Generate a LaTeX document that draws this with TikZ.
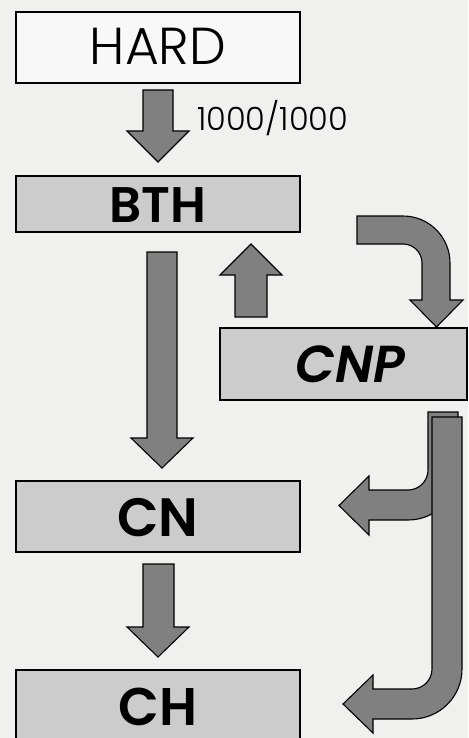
\documentclass[tikz,border=0pt]{standalone}
\usepackage{fontspec}
\setmainfont{Poppins}[BoldFont={Poppins SemiBold}, BoldItalicFont={Poppins SemiBold Italic}]
\newfontfamily\lightfont{Poppins Light}
\definecolor{bg}{RGB}{240,241,239}
\definecolor{boxgray}{RGB}{204,204,204}
\definecolor{arrgray}{RGB}{128,128,128}
\definecolor{hardfill}{RGB}{248,248,248}
\tikzset{
  box/.style={draw=black, line width=1.4pt, fill=boxgray, inner sep=0pt, text=black},
  blockarrow/.style={draw=black, line width=1.1pt, fill=arrgray, line join=miter},
  boxtext/.style={inner sep=0pt, anchor=base, text depth=0pt},
}
\begin{document}
\begin{tikzpicture}[x=1pt,y=-1pt]
\useasboundingbox (0,0) rectangle (468,738);
\clip (0,0) rectangle (468,738);
\fill[bg] (0,0) rectangle (468,738);
% boxes
\node[box, fill=hardfill, minimum width=284pt, minimum height=71pt] (hard) at (158,47.5) {};
\node[boxtext] (hardtext) at (158,65) {\fontsize{52}{52}\selectfont\lightfont HARD};
\node[box, minimum width=284pt, minimum height=56pt] (bth) at (158,204) {};
\node[boxtext] (bthtext) at (158,222) {\fontsize{50}{50}\selectfont\bfseries BTH};
\node[box, minimum width=247pt, minimum height=72pt] (cnp) at (343.5,364) {};
\node[boxtext] (cnptext) at (350,382) {\fontsize{52}{52}\selectfont\bfseries\itshape CNP};
\node[box, minimum width=284pt, minimum height=71pt] (cn) at (158,516.5) {};
\node[boxtext] (cntext) at (158,536) {\fontsize{54}{54}\selectfont\bfseries CN};
\node[box, minimum width=284pt, minimum height=70pt] (ch) at (158,705) {};
\node[boxtext] (chtext) at (158,725) {\fontsize{53}{53}\selectfont\bfseries CH};
% label
\node[anchor=base west, inner sep=0pt, text depth=0pt] (lbl) at (197,131) {\fontsize{32}{32}\selectfont\lightfont 1000/1000};
% HARD -> BTH
\draw[blockarrow] (143,90) -- (173,90) -- (173,131) -- (189,131) -- (158,162) -- (127,131) -- (143,131) -- cycle;
% BTH -> CN
\draw[blockarrow] (147,252) -- (177,252) -- (177,438) -- (193,438) -- (162,468) -- (131,438) -- (147,438) -- cycle;
% CNP -> BTH (up)
\draw[blockarrow] (235,317) -- (267,317) -- (267,275) -- (282,275) -- (251,244) -- (220,275) -- (235,275) -- cycle;
% CN -> CH
\draw[blockarrow] (143,564) -- (174,564) -- (174,627) -- (189,627) -- (158,657) -- (127,627) -- (143,627) -- cycle;
% BTH -> CNP curved
\draw[blockarrow] (357,216) -- (403,216) arc[start angle=270, end angle=360, radius=47] -- (450,300) -- (463,300) -- (436.5,327) -- (410,300) -- (422,300) -- (422,263) arc[start angle=0, end angle=-90, radius=19] -- (357,244) -- cycle;
% CNP -> CN (back)
\draw[blockarrow] (428,412) -- (458,412) -- (458,470) arc[start angle=0, end angle=90, radius=50] -- (369,520) -- (369,535) -- (339,505.5) -- (369,476) -- (369,490) -- (408,490) arc[start angle=90, end angle=0, radius=20] -- cycle;
% CNP -> CH (front)
\draw[blockarrow] (432,417) -- (462,417) -- (462,669) arc[start angle=0, end angle=90, radius=50] -- (373,719) -- (373,733) -- (343,704) -- (373,675) -- (373,689) -- (412,689) arc[start angle=90, end angle=0, radius=20] -- cycle;
\end{tikzpicture}
\end{document}
